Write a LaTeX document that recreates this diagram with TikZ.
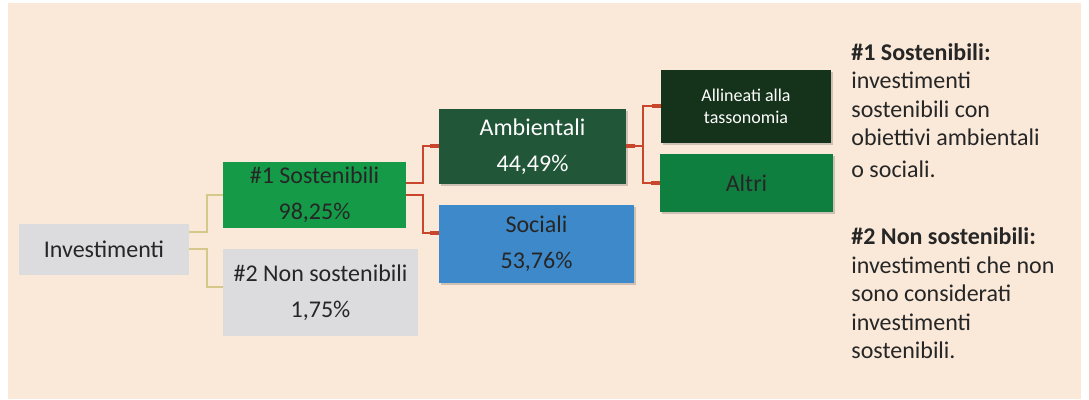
\documentclass[tikz,border=0pt]{standalone}
\usepackage{fontspec}
\setmainfont{Carlito}
\usepackage{xcolor}
\usetikzlibrary{positioning,shadows}
\definecolor{peach}{HTML}{FAE9D9}
\definecolor{boxgray}{HTML}{DCDCDE}
\definecolor{ink}{HTML}{262626}
\definecolor{sostgreen}{HTML}{159B48}
\definecolor{ambgreen}{HTML}{225638}
\definecolor{taxgreen}{HTML}{15321A}
\definecolor{altrigreen}{HTML}{0F7F3F}
\definecolor{socblue}{HTML}{3E89C9}
\definecolor{khaki}{HTML}{D6C88A}
\definecolor{rust}{HTML}{C9452B}

\begin{document}
\begin{tikzpicture}[x=0.5pt,y=0.5pt,
box/.style={inner sep=0pt,align=center,text=ink,font=\fontsize{12}{18}\selectfont},
sh/.style={drop shadow={shadow xshift=1.2pt,shadow yshift=-1.2pt,opacity=.3,fill=black!60}},
tan/.style={draw=khaki,line width=1pt},
branch/.style={draw=rust,line width=1pt},
stub/.style={draw=rust,line width=2pt},
defn/.style={inner sep=0pt,align=left,text=ink,font=\fontsize{12}{14.25}\selectfont}]
\useasboundingbox (0,0) rectangle (1089,400);
\fill[peach] (8,1) rectangle (1081,397);
\node[box,fill=boxgray,minimum width=85pt,minimum height=25.5pt] (inv) at (104,150.5) {Investimenti};
\node[box,fill=sostgreen,minimum width=91.5pt,minimum height=33pt] (sost) at (314.5,205) {\#1 Sostenibili\\98,25\%};
\node[box,fill=boxgray,minimum width=97.5pt,minimum height=43.5pt] (nonsost) at (320.5,107.5) {\#2 Non sostenibili\\1,75\%};
\node[box,sh,fill=ambgreen,text=white,minimum width=93.5pt,minimum height=37.5pt] (amb) at (532.5,253.5) {Ambientali\\44,49\%};
\node[box,sh,fill=socblue,minimum width=97.5pt,minimum height=39pt] (soc) at (536.5,156) {Sociali\\53,76\%};
\node[box,sh,fill=taxgreen,text=white,minimum width=85pt,minimum height=36.5pt,font=\fontsize{9}{11}\selectfont] (tax) at (746,293.5) {Allineati alla\\tassonomia};
\node[box,sh,fill=altrigreen,minimum width=86.5pt,minimum height=29pt] (altri) at (746.5,217) {Altri};
% connectors
\draw[tan] ([yshift=8.5pt]inv.east) -- ++(18,0) |- (sost.west);
\draw[tan] (inv.east) -- ++(18,0) |- ([yshift=2.5pt]nonsost.west);
\draw[branch] ([yshift=6pt]sost.east) -- ++(17,0) |- (amb.west);
\draw[branch] (sost.east) -- ++(17,0) |- ([yshift=5.5pt]soc.west);
\draw[branch] (amb.east) -- ++(17,0) |- (tax.west);
\draw[branch] (amb.east) -- ++(17,0) |- (altri.west);
\foreach \n in {amb,tax,altri} \draw[stub] (\n.west) -- ++(-9,0);
\draw[stub] ([yshift=5.5pt]soc.west) -- ++(-9,0);
\draw[stub] (amb.east) -- ++(9,0);
% definitions
\node[defn,anchor=north west] (def1) at (851,357) {\textbf{\#1 Sostenibili:}\\investimenti\\sostenibili con\\obiettivi ambientali\\[1.8pt]o sociali.};
\node[defn,below=24.5pt of def1.south west,anchor=north west] (def2) {\textbf{\#2 Non sostenibili:}\\investimenti che non\\sono considerati\\investimenti\\sostenibili.};
\end{tikzpicture}
\end{document}
